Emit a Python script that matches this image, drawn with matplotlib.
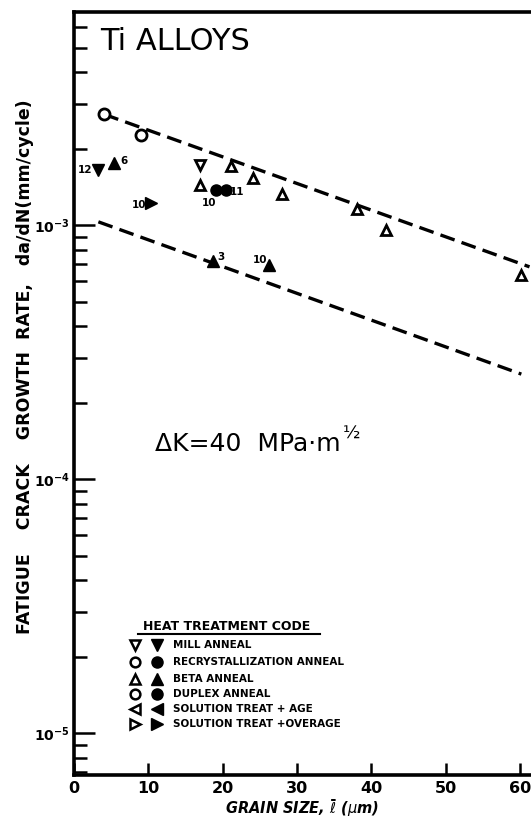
import math
import matplotlib
matplotlib.use("Agg")
import matplotlib.pyplot as plt
from matplotlib.ticker import LogLocator, FixedLocator, NullFormatter, FuncFormatter

plt.rcParams['font.family'] = ['DejaVu Sans']
plt.rcParams['mathtext.default'] = 'bf'

# ---------------- data (grain size in um, da/dN in mm/cycle) ----------------
open_circle_x = [4.05, 8.97]
open_circle_y = [2.73e-3, 2.26e-3]

open_down_x = [17.0]
open_down_y = [1.72e-3]

open_up_x = [16.95, 21.1, 24.1, 28.0, 38.1, 42.0, 60.2]
open_up_y = [1.44e-3, 1.71e-3, 1.53e-3, 1.33e-3, 1.16e-3, 9.56e-4, 6.39e-4]

filled_down_x = [3.28]
filled_down_y = [1.65e-3]
filled_down_lbl = ["12"]

filled_up_x = [5.39, 18.7, 26.2]
filled_up_y = [1.76e-3, 7.24e-4, 6.96e-4]
filled_up_lbl = ["6", "3", "10"]

filled_circle_x = [19.05, 20.5]
filled_circle_y = [1.38e-3, 1.38e-3]
filled_circle_lbl = ["10", "11"]

filled_right_x = [10.3]
filled_right_y = [1.22e-3]
filled_right_lbl = ["10"]

upper_line_x = [4.05, 61.3]
upper_line_y = [2.73e-3, 6.85e-4]
lower_line_x = [3.28, 60.2]
lower_line_y = [1.03e-3, 2.59e-4]

x_ticks = [0, 10, 20, 30, 40, 50, 60]
y_major = [1e-5, 1e-4, 1e-3]

legend_labels = ["MILL ANNEAL", "RECRYSTALLIZATION ANNEAL", "BETA ANNEAL",
                 "DUPLEX ANNEAL", "SOLUTION TREAT + AGE", "SOLUTION TREAT +OVERAGE"]
legend_markers = ["v", "o", "^", "o", "<", ">"]

# ---------------- figure ----------------
fig = plt.figure(figsize=(5.31, 8.21), dpi=100)
ax = fig.add_axes([74/531, 46/821, 457/531, 763/821])
ax.set_yscale('log')
ax.set_xlim(0, 61.5)
ax.set_ylim(10**(-5.165), 10**(-2.161))

K = 'black'
ms = 7.5
mew = 2.0

ax.plot(upper_line_x, upper_line_y, color=K, lw=2.4, dashes=(4.5, 2.2), zorder=2)
ax.plot(lower_line_x, lower_line_y, color=K, lw=2.4, dashes=(4.5, 2.2), zorder=2)

def open_pts(x, y, m, size=ms):
    ax.plot(x, y, ls='none', marker=m, ms=size, mfc='white', mec=K, mew=mew, zorder=3)

def filled_pts(x, y, m, size=ms):
    ax.plot(x, y, ls='none', marker=m, ms=size, mfc=K, mec=K, mew=1.0, zorder=3)

open_pts(open_circle_x, open_circle_y, 'o', 8)
open_pts(open_down_x, open_down_y, 'v')
open_pts(open_up_x, open_up_y, '^')
filled_pts(filled_down_x, filled_down_y, 'v', 9)
filled_pts(filled_up_x, filled_up_y, '^', 9)
filled_pts(filled_circle_x, filled_circle_y, 'o', 8)
filled_pts(filled_right_x, filled_right_y, '>', 9)

def labels(x, y, lbls, offsets):
    for xi, yi, t, off in zip(x, y, lbls, offsets):
        ax.annotate(t, (xi, yi), xytext=off, textcoords='offset points',
                    ha='center', va='center', fontsize=7.5, fontweight='bold')

labels(filled_down_x, filled_down_y, filled_down_lbl, [(-9.5, 0)])
labels(filled_up_x, filled_up_y, filled_up_lbl, [(7.5, 1), (6, 3), (-6.5, 3.5)])
labels(filled_circle_x, filled_circle_y, filled_circle_lbl, [(-5, -9.5), (8, -1.5)])
labels(filled_right_x, filled_right_y, filled_right_lbl, [(-8.5, -1.5)])

# ---------------- axes styling ----------------
for s in ['left', 'bottom', 'top']:
    ax.spines[s].set_linewidth(2.6)
ax.spines['right'].set_visible(False)

ax.xaxis.set_major_locator(FixedLocator(x_ticks))
ax.tick_params(axis='x', which='major', direction='in', length=9, width=1.8,
               labelsize=11.5, pad=4, top=False)
for lab in ax.get_xticklabels():
    lab.set_fontweight('bold')

ax.yaxis.set_major_locator(FixedLocator(y_major))
ax.yaxis.set_minor_locator(LogLocator(base=10, subs=range(2, 10)))
ax.yaxis.set_minor_formatter(NullFormatter())
ax.yaxis.set_major_formatter(FuncFormatter(
    lambda v, p: r"$\mathbf{10^{%d}}$" % round(math.log10(v))))
ax.tick_params(axis='y', which='major', direction='in', length=15, width=1.8,
               labelsize=10, pad=3, right=False)
ax.tick_params(axis='y', which='minor', direction='in', length=9, width=1.8, right=False)

ax.set_xlabel(r"GRAIN SIZE, $\bar{\mathit{\ell}}$ ($\mathit{\mu}$m)", fontsize=10.5,
              fontweight='bold', fontstyle='italic', va='center')
ax.xaxis.set_label_coords(0.5, -0.043)
ax.set_ylabel("FATIGUE    CRACK    GROWTH  RATE,   da/dN(mm/cycle)", fontsize=12.5,
              fontweight='bold', va='center')
ax.yaxis.set_label_coords(-0.108, 0.535)

# ---------------- annotations ----------------
ax.text(0.057, 0.9607, "Ti ALLOYS", transform=ax.transAxes, fontsize=22,
        ha='left', va='center')
ax.text(0.177, 0.434, "ΔK=40  MPa·m", transform=ax.transAxes, fontsize=18,
        ha='left', va='center')
ax.text(0.588, 0.447, "½", transform=ax.transAxes, fontsize=13,
        ha='left', va='center')

# ---------------- legend (manual) ----------------
ax.text(0.151, 0.194, "HEAT TREATMENT CODE", transform=ax.transAxes, fontsize=9,
        fontweight='bold', ha='left', va='center')
ax.plot([0.140, 0.538], [0.1848, 0.1848], transform=ax.transAxes, color=K, lw=1.5,
        clip_on=False)
row_y = [0.1704, 0.1481, 0.1258, 0.1062, 0.0865, 0.0668]
for yy, m, t in zip(row_y, legend_markers, legend_labels):
    ax.plot([0.1335], [yy], transform=ax.transAxes, marker=m, ms=7, mfc='white',
            mec=K, mew=1.8, ls='none', clip_on=False)
    ax.plot([0.1816], [yy], transform=ax.transAxes, marker=m, ms=8, mfc=K,
            mec=K, ls='none', clip_on=False)
    ax.text(0.2166, yy, t, transform=ax.transAxes, fontsize=7.5, fontweight='bold',
            ha='left', va='center')

fig.savefig("out.png", dpi=100)
